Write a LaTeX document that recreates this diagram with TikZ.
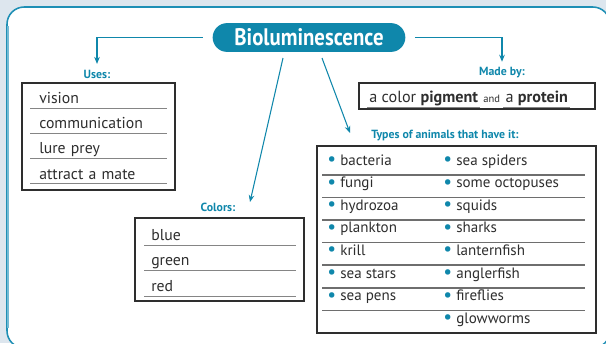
\documentclass[tikz,border=0pt]{standalone}
\usepackage{fontspec}
\usepackage{graphicx}
\setmainfont{PT Sans}
\usetikzlibrary{arrows.meta,positioning,shapes.misc}
\definecolor{lum}{HTML}{0F87AB}
\definecolor{rim}{HTML}{1E8FB5}
\definecolor{rimlight}{HTML}{72BAD4}
\definecolor{haze}{HTML}{DDE6EE}
\definecolor{inkgray}{HTML}{2E2E2E}
\definecolor{rule}{HTML}{858585}
\definecolor{sep}{HTML}{6E6E6E}
\newcommand{\dotb}{\textcolor{lum}{\raisebox{-.3pt}{\scalebox{1.3}{\textbullet}}}\hspace{3pt}}

\begin{document}
\begin{tikzpicture}[x=0.025cm,y=-0.025cm,>=Stealth,
  lbl/.style={color=lum,font=\fontsize{8.4}{9}\selectfont\bfseries,inner sep=1pt},
  link/.style={color=lum,line width=.75pt,-{Stealth[length=5pt,width=4pt]}},
  listbox/.style={draw=inkgray,line width=.9pt},
  item/.style={anchor=south west,inner xsep=0pt,inner ysep=1.2pt,align=left,
               text height=8.5pt,text depth=2pt,color=inkgray,font=\fontsize{11.2}{13}\selectfont},
  uline/.style={draw=rule,line width=.6pt},
  animal/.style={anchor=base west,inner sep=0pt,color=inkgray,font=\fontsize{10.7}{12}\selectfont},
  madetxt/.style={anchor=base west,inner xsep=1.5pt,inner ysep=1.5pt,color=inkgray,
                  font=\fontsize{11.5}{13}\selectfont}]
\useasboundingbox (0,0) rectangle (606,343);
% ---------------- frame
\fill[haze] (0,0) rectangle (606,343);
\draw[rim,line width=1.1pt,fill=white,rounded corners=4.3mm] (7,7) rectangle (610,348);
\draw[rimlight,line width=1.4pt] (8.2,26) -- (8.2,328);

% ---------------- title and connectors
\node[rounded rectangle,fill=lum,minimum width=5.05cm,minimum height=.72cm,
      text=white,font=\fontsize{17}{17}\selectfont\bfseries] (title) at (309,37.5)
     {\scalebox{.87}[1]{Bioluminescence}};

\node[lbl] (usesLbl)   at (97,74)   {Uses:};
\node[lbl] (madeLbl)   at (502,73)  {Made by:};
\node[lbl] (colorsLbl) at (218,207) {Colors:};
\node[lbl] (typesLbl)  at (445,136) {Types of animals that have it:};

\coordinate (colTop) at (283,58);
\coordinate (colTip) at (250,202);
\coordinate (typTop) at (322,58);
\coordinate (typTip) at (350,133);

\draw[link,shorten <=7pt,shorten >=3pt] (title.west) -| (usesLbl.north);
\draw[link,shorten <=6.5pt,shorten >=3pt] (title.east) -| (madeLbl.north);
\draw[link] (colTop) -- (colTip);
\draw[link] (typTop) -- (typTip);

% ---------------- uses
\draw[listbox] (22,83) rectangle (175,190);
\foreach \t [count=\i] in {vision,communication,lure prey,attract a mate}{
  \node[item,text width=3.175cm] (use\i) at (39,{108+25.3*(\i-1)}) {\t};
  \draw[uline] (use\i.south west) ++(-9,0) -- (use\i.south east);
}

% ---------------- made by
\draw[listbox] (359,83) rectangle (595,109);
\node[madetxt] (mb1) at (367,102) {a color \textbf{pigment}};
\node[madetxt,font=\fontsize{7.5}{9}\selectfont,base right=.5pt of mb1] (mbAnd) {and};
\node[madetxt,base right=.5pt of mbAnd] (mb2) {a \textbf{protein}};
\draw[uline] (mb1.south west) -- (mb1.south east);
\draw[uline] (mb2.south west) -- (mb2.south east);

% ---------------- colors
\draw[listbox] (135,218) rectangle (304,301);
\foreach \t [count=\i] in {blue,green,red}{
  \node[item,text width=3.6cm] (col\i) at (151,{245+25.5*(\i-1)}) {\t};
  \draw[uline] (col\i.south west) ++(-7,0) -- (col\i.south east);
}

% ---------------- animals
\draw[listbox] (317,146) rectangle (596,333);
\foreach \a/\b [count=\i] in {bacteria/sea spiders,fungi/some octopuses,hydrozoa/squids,
    plankton/sharks,krill/lanternfish,sea stars/anglerfish,sea pens/fireflies}{
  \node[animal] (left\i) at (327,{165+22.6*(\i-1)}) {\dotb\a};
  \node[animal] (right\i) at (443,{165+22.6*(\i-1)}) {\dotb\b};
  \draw[sep,line width=1.1pt] (322,{175+22.55*(\i-1)}) -- (585,{175+22.55*(\i-1)});
}
\node[animal] (right8) at (443,{165+22.6*7}) {\dotb glowworms};
\end{tikzpicture}
\end{document}
